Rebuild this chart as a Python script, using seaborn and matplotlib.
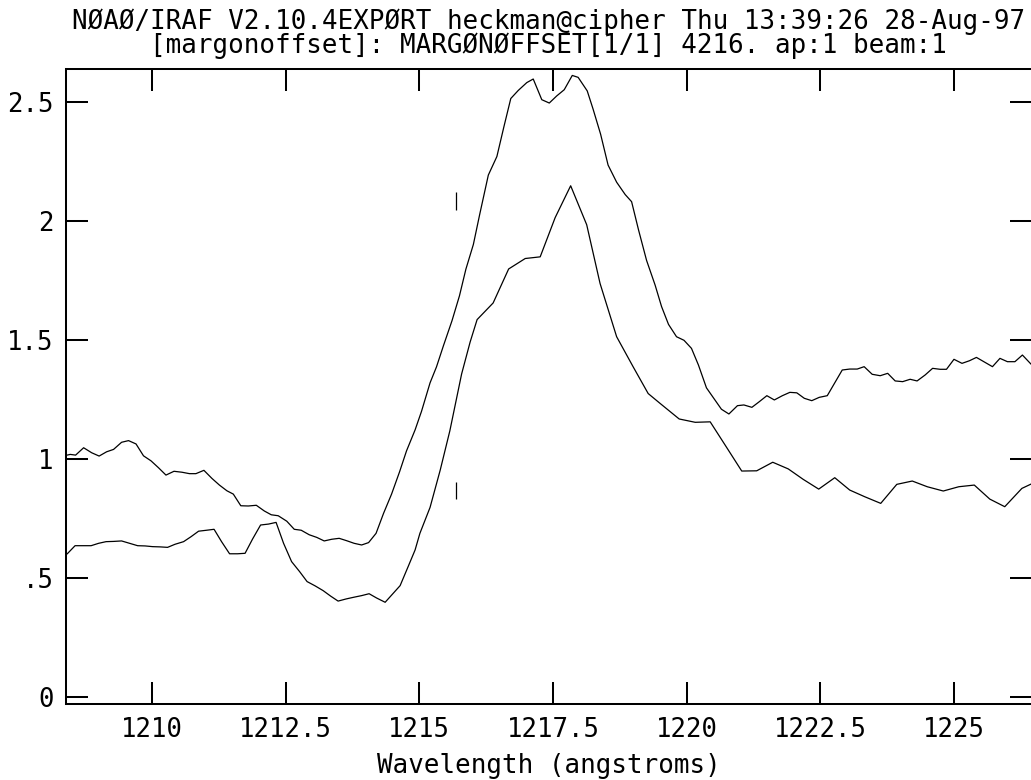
"""
IRAF splot-style plot of two Lyman-alpha spectra (MARGONOFFSET, 28-Aug-97).
"""

import pandas as pd
import seaborn as sns
import matplotlib.pyplot as plt

# upper spectrum (wavelength in angstroms, flux)
upper_wave = [1208.41, 1208.47, 1208.57, 1208.72, 1208.87, 1209.01, 1209.15, 1209.28,
              1209.43, 1209.56, 1209.70, 1209.84, 1209.98, 1210.12, 1210.26, 1210.41,
              1210.56, 1210.70, 1210.82, 1210.97, 1211.12, 1211.26, 1211.40, 1211.52,
              1211.66, 1211.80, 1211.95, 1212.10, 1212.23, 1212.36, 1212.52, 1212.66,
              1212.79, 1212.94, 1213.08, 1213.22, 1213.36, 1213.50, 1213.64, 1213.78,
              1213.92, 1214.05, 1214.19, 1214.33, 1214.48, 1214.63, 1214.76, 1214.92,
              1215.04, 1215.20, 1215.32, 1215.45, 1215.61, 1215.75, 1215.87, 1216.01,
              1216.13, 1216.29, 1216.45, 1216.58, 1216.71, 1216.85, 1217.01, 1217.13,
              1217.29, 1217.43, 1217.57, 1217.71, 1217.86, 1217.97, 1218.14, 1218.25,
              1218.39, 1218.53, 1218.69, 1218.85, 1218.97, 1219.10, 1219.25, 1219.41,
              1219.53, 1219.66, 1219.81, 1219.95, 1220.09, 1220.22, 1220.37, 1220.53,
              1220.65, 1220.79, 1220.95, 1221.07, 1221.22, 1221.36, 1221.50, 1221.64,
              1221.79, 1221.93, 1222.06, 1222.20, 1222.34, 1222.48, 1222.63, 1222.77,
              1222.91, 1223.05, 1223.19, 1223.32, 1223.47, 1223.62, 1223.76, 1223.90,
              1224.04, 1224.18, 1224.31, 1224.46, 1224.60, 1224.74, 1224.86, 1225.00,
              1225.15, 1225.29, 1225.42, 1225.56, 1225.72, 1225.86, 1226.00, 1226.14,
              1226.28, 1226.44, 1226.58]
upper_flux = [1.016, 1.019, 1.016, 1.047, 1.026, 1.012, 1.030, 1.040,
              1.070, 1.077, 1.063, 1.013, 0.992, 0.963, 0.932, 0.948,
              0.944, 0.938, 0.938, 0.952, 0.918, 0.890, 0.866, 0.852,
              0.803, 0.802, 0.805, 0.781, 0.765, 0.761, 0.738, 0.704,
              0.700, 0.681, 0.670, 0.655, 0.662, 0.666, 0.656, 0.645,
              0.638, 0.648, 0.687, 0.771, 0.852, 0.946, 1.034, 1.122,
              1.200, 1.320, 1.387, 1.476, 1.581, 1.686, 1.798, 1.902,
              2.030, 2.194, 2.272, 2.396, 2.516, 2.550, 2.583, 2.598,
              2.511, 2.497, 2.527, 2.553, 2.613, 2.605, 2.548, 2.471,
              2.366, 2.236, 2.164, 2.112, 2.082, 1.963, 1.835, 1.731,
              1.641, 1.566, 1.514, 1.499, 1.465, 1.395, 1.299, 1.248,
              1.209, 1.189, 1.224, 1.227, 1.217, 1.241, 1.266, 1.248,
              1.266, 1.280, 1.278, 1.255, 1.245, 1.259, 1.266, 1.320,
              1.374, 1.378, 1.378, 1.388, 1.356, 1.350, 1.360, 1.328,
              1.325, 1.335, 1.328, 1.353, 1.381, 1.377, 1.377, 1.419,
              1.402, 1.413, 1.427, 1.409, 1.388, 1.423, 1.409, 1.409,
              1.437, 1.399, 1.380]

# lower spectrum
lower_wave = [1208.41, 1208.56, 1208.72, 1208.86, 1209.00, 1209.14, 1209.28, 1209.43,
              1209.58, 1209.73, 1209.87, 1210.01, 1210.15, 1210.29, 1210.43, 1210.59,
              1210.73, 1210.87, 1211.02, 1211.16, 1211.30, 1211.45, 1211.60, 1211.74,
              1211.88, 1212.03, 1212.18, 1212.32, 1212.46, 1212.61, 1212.76, 1212.90,
              1213.05, 1213.20, 1213.34, 1213.48, 1213.63, 1213.77, 1213.92, 1214.06,
              1214.20, 1214.36, 1214.50, 1214.64, 1214.79, 1214.92, 1215.01, 1215.20,
              1215.39, 1215.57, 1215.79, 1215.95, 1216.08, 1216.38, 1216.67, 1216.98,
              1217.26, 1217.54, 1217.83, 1218.13, 1218.38, 1218.69, 1219.00, 1219.28,
              1219.50, 1219.86, 1220.16, 1220.44, 1220.74, 1221.03, 1221.31, 1221.61,
              1221.90, 1222.18, 1222.47, 1222.77, 1223.05, 1223.33, 1223.63, 1223.93,
              1224.22, 1224.50, 1224.80, 1225.09, 1225.38, 1225.67, 1225.95, 1226.27,
              1226.44, 1226.58]
lower_flux = [0.600, 0.635, 0.635, 0.635, 0.645, 0.652, 0.653, 0.655,
              0.645, 0.635, 0.634, 0.631, 0.630, 0.628, 0.641, 0.652,
              0.673, 0.696, 0.700, 0.704, 0.652, 0.601, 0.601, 0.603,
              0.663, 0.722, 0.726, 0.733, 0.645, 0.568, 0.526, 0.484,
              0.466, 0.446, 0.423, 0.402, 0.411, 0.418, 0.425, 0.433,
              0.415, 0.397, 0.432, 0.467, 0.547, 0.617, 0.687, 0.796,
              0.953, 1.118, 1.357, 1.492, 1.586, 1.656, 1.799, 1.843,
              1.850, 2.015, 2.149, 1.985, 1.738, 1.514, 1.387, 1.275,
              1.234, 1.168, 1.154, 1.156, 1.051, 0.949, 0.950, 0.986,
              0.958, 0.914, 0.873, 0.921, 0.869, 0.841, 0.813, 0.893,
              0.907, 0.883, 0.865, 0.883, 0.890, 0.831, 0.799, 0.876,
              0.894, 0.905]

# short vertical marks near 1215.7
mark_wave = [1215.69, 1215.69]
mark_low = [2.047, 0.831]
mark_high = [2.122, 0.902]

x_ticks = [1210, 1212.5, 1215, 1217.5, 1220, 1222.5, 1225]
x_tick_labels = ["1210", "1212.5", "1215", "1217.5", "1220", "1222.5", "1225"]
y_ticks = [0, 0.5, 1, 1.5, 2, 2.5]
y_tick_labels = ["0", ".5", "1", "1.5", "2", "2.5"]

title_1 = "NØAØ/IRAF V2.10.4EXPØRT heckman@cipher Thu 13:39:26 28-Aug-97"
title_2 = "[margonoffset]: MARGØNØFFSET[1/1] 4216. ap:1 beam:1"

df = pd.concat([
    pd.DataFrame({"wave": upper_wave, "flux": upper_flux, "spec": "upper"}),
    pd.DataFrame({"wave": lower_wave, "flux": lower_flux, "spec": "lower"}),
])

sns.set_style("ticks")
plt.rcParams["font.family"] = ["DejaVu Sans Mono", "DejaVu Sans"]
plt.rcParams["text.color"] = "black"
plt.rcParams["axes.labelcolor"] = "black"

fig = plt.figure(figsize=(10.31, 7.80), dpi=100)
ax = fig.add_axes([0.0640, 0.0974, 0.9370, 0.8141])

sns.lineplot(data=df, x="wave", y="flux", units="spec", estimator=None, sort=False,
             color="black", linewidth=0.9, ax=ax)
ax.vlines(mark_wave, mark_low, mark_high, color="black", linewidth=0.9)

ax.set_xlim(1208.39, 1226.46)
ax.set_ylim(-0.031, 2.640)
ax.set_xticks(x_ticks, x_tick_labels)
ax.set_yticks(y_ticks, y_tick_labels)
ax.tick_params(direction="in", length=15.8, width=1.45, top=True, right=True,
               labelsize=18.5, colors="black", pad=9)
for s in ax.spines.values():
    s.set_linewidth(1.45)
    s.set_color("black")

ax.set_xlabel("Wavelength (angstroms)", fontsize=18.6, labelpad=7.5)
ax.set_ylabel("")

fig.text(0.532, 0.972, title_1, ha="center", va="center", fontsize=18.6)
fig.text(0.532, 0.941, title_2, ha="center", va="center", fontsize=18.6)

fig.savefig("out.png", dpi=100)
